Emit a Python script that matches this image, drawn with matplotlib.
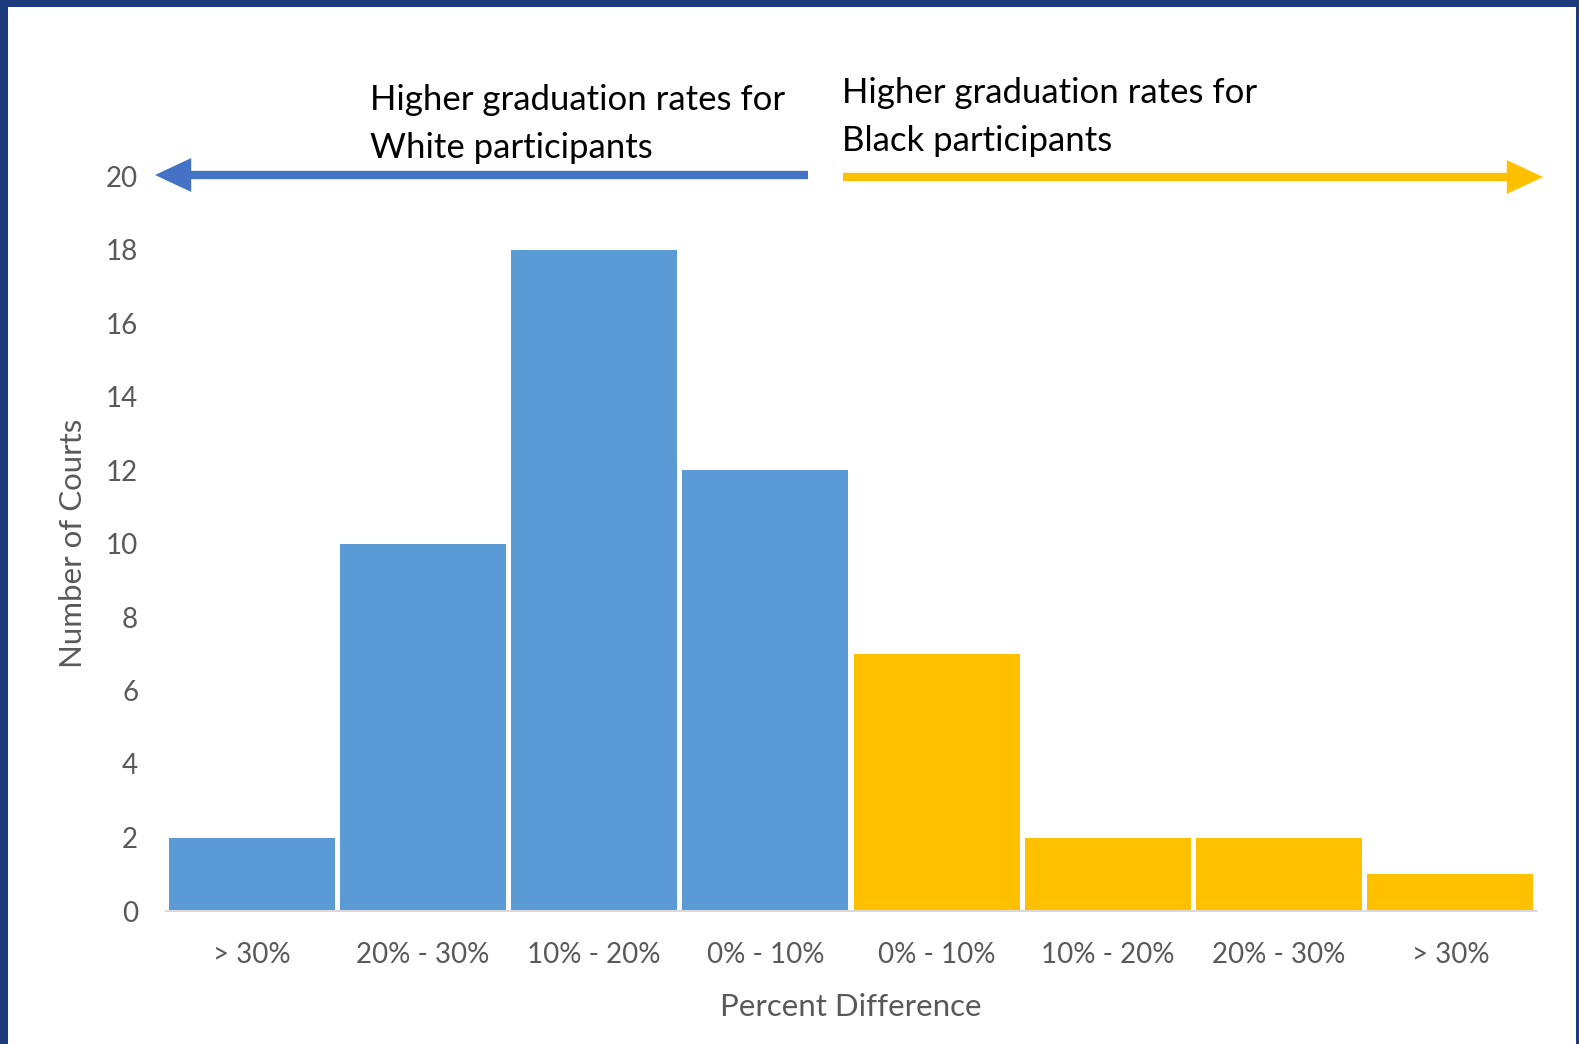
import matplotlib.pyplot as plt
from matplotlib.patches import Rectangle

categories = ["> 30%", "20% - 30%", "10% - 20%", "0% - 10%",
              "0% - 10%", "10% - 20%", "20% - 30%", "> 30%"]
white_counts = [2, 10, 18, 12]
black_counts = [7, 2, 2, 1]

blue = "#5B9BD5"
gold = "#FFC000"
grey = "#595959"

plt.rcParams['font.family'] = ['Lato', 'DejaVu Sans']

W, H = 1579, 1044
fig = plt.figure(figsize=(W / 100, H / 100), dpi=100)
fig.patch.set_facecolor("#1d3b7c")
fig.patches.append(Rectangle((8 / W, 0), (1576 - 8) / W, 1 - 7 / H,
                             transform=fig.transFigure, facecolor="white",
                             edgecolor="none", zorder=-10))

ax = fig.add_axes([166 / W, 1 - 911 / H, (1536 - 166) / W, (911 - 176) / H])
ax.set_facecolor("none")

counts = white_counts + black_counts
colors = [blue] * len(white_counts) + [gold] * len(black_counts)
x = range(len(categories))
ax.bar(x, counts, width=0.97, color=colors)

ax.set_xlim(-0.5, len(categories) - 0.5)
ax.set_ylim(0, 20)
ax.set_yticks(range(0, 21, 2))
ax.set_xticks(list(x))
ax.set_xticklabels(categories)
ax.tick_params(axis="both", length=0, labelsize=20, colors=grey)
ax.tick_params(axis="y", pad=20)
ax.tick_params(axis="x", pad=22)
for s in ["top", "right", "left"]:
    ax.spines[s].set_visible(False)
ax.spines["bottom"].set_color("#d9d9d9")
ax.spines["bottom"].set_linewidth(1.5)

ax.set_ylabel("Number of Courts", fontsize=22.5, color=grey, labelpad=14)
ax.set_xlabel("Percent Difference", fontsize=22.5, color=grey, labelpad=18)

# direction arrows and captions
head = "-|>,head_length=1.6,head_width=0.75"
ax.annotate("", xy=(155 / W, 1 - 175 / H), xytext=(808 / W, 1 - 175 / H),
            xycoords="figure fraction", textcoords="figure fraction",
            arrowprops=dict(arrowstyle=head, color="#4472C4", lw=6,
                            shrinkA=0, shrinkB=0, capstyle="butt",
                            joinstyle="miter"))
ax.annotate("", xy=(1543 / W, 1 - 177 / H), xytext=(843 / W, 1 - 177 / H),
            xycoords="figure fraction", textcoords="figure fraction",
            arrowprops=dict(arrowstyle=head, color=gold, lw=6,
                            shrinkA=0, shrinkB=0, capstyle="butt",
                            joinstyle="miter"))

fig.text(370 / W, 1 - 124 / H, "Higher graduation rates for\nWhite participants",
         fontsize=25, color="black", ha="left", va="center", linespacing=1.6)
fig.text(842 / W, 1 - 117 / H, "Higher graduation rates for\nBlack participants",
         fontsize=25, color="black", ha="left", va="center", linespacing=1.6)

fig.savefig("out.png", dpi=100, facecolor=fig.get_facecolor())
